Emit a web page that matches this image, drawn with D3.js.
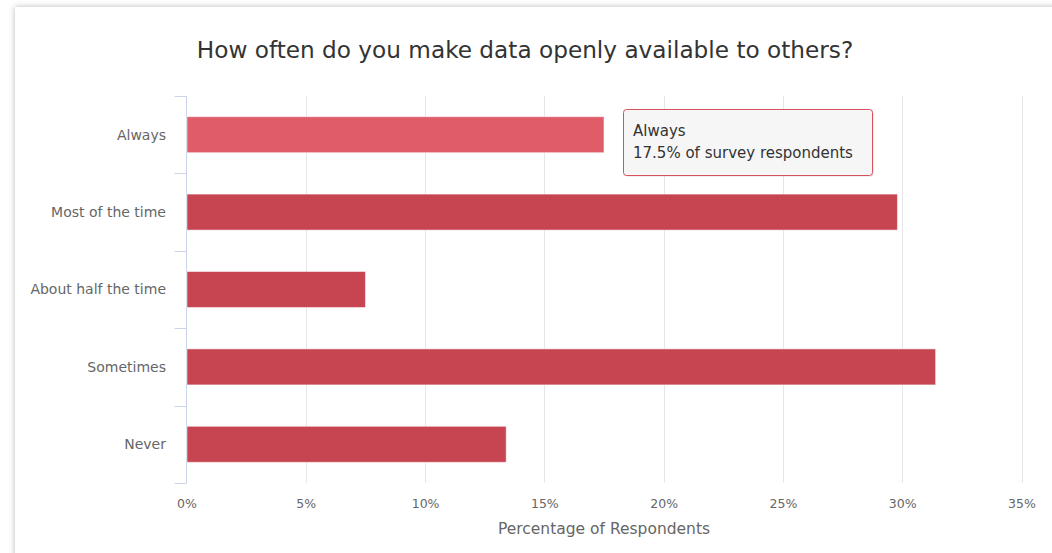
<!DOCTYPE html>
<html>
<head>
<meta charset="utf-8">
<script src="https://cdn.jsdelivr.net/npm/d3@7"></script>
<style>
  html, body { margin: 0; padding: 0; background: #ffffff; overflow: hidden; }
  body { width: 1052px; height: 553px; position: relative; }
  #card {
    position: absolute; left: 15px; top: 7px; width: 1100px; height: 620px;
    background: #ffffff; box-shadow: 0 0 6px rgba(0,0,0,0.28);
  }
  svg { position: absolute; left: 0; top: 0; }
  text { font-family: "DejaVu Sans", Verdana, sans-serif; }
</style>
</head>
<body>
<div id="card"></div>
<svg id="chart" width="1052" height="553"></svg>
<script>
// Survey answers and share of respondents (%)
const categories = ["Always", "Most of the time", "About half the time", "Sometimes", "Never"];
const values = [17.5, 29.8, 7.5, 31.4, 13.4];
const tickValues = [0, 5, 10, 15, 20, 25, 30, 35];
const title = "How often do you make data openly available to others?";
const axisTitle = "Percentage of Respondents";
const highlighted = 0; // the bar whose tooltip is shown

const W = 1052, H = 553;
const margin = { left: 186.5, right: 30.5, top: 96, bottom: 70 };

const svg = d3.select("#chart");

const x = d3.scaleLinear().domain([0, 35]).range([margin.left, W - margin.right]);
const y = d3.scaleBand().domain(categories).range([margin.top, H - margin.bottom])
  .paddingInner(0.535).paddingOuter(0.2675);
const band = d3.scaleBand().domain(categories).range([margin.top, H - margin.bottom]);

// Title
svg.append("text")
  .attr("x", 525).attr("y", 58)
  .attr("text-anchor", "middle")
  .attr("fill", "#333333")
  .style("font-size", "23.2px")
  .text(title);

// Vertical gridlines
svg.append("g").selectAll("line")
  .data(tickValues.filter(d => d > 0))
  .join("line")
  .attr("x1", d => Math.round(x(d)) + 0.5).attr("x2", d => Math.round(x(d)) + 0.5)
  .attr("y1", margin.top).attr("y2", H - margin.bottom)
  .attr("stroke", "#e6e6e6").attr("stroke-width", 1);

// Value axis labels
const xAxis = d3.axisBottom(x).tickValues(tickValues).tickFormat(d => d + "%").tickSize(0).tickPadding(0);
const gx = svg.append("g").attr("transform", `translate(0,${H - margin.bottom + 16})`).call(xAxis);
gx.select(".domain").remove();
gx.selectAll("text")
  .attr("fill", "#666666")
  .style("font-size", "12.5px")
  .attr("dy", "0.71em");

// Axis title
svg.append("text")
  .attr("x", (x(0) + x(35)) / 2).attr("y", 534)
  .attr("text-anchor", "middle")
  .attr("fill", "#666666")
  .style("font-size", "15.5px")
  .text(axisTitle);

// Category axis: line with tick marks between categories
const axisX = Math.round(x(0)) - 0.5;
const catAxis = svg.append("g");
catAxis.append("line")
  .attr("x1", axisX).attr("x2", axisX)
  .attr("y1", margin.top).attr("y2", H - margin.bottom)
  .attr("stroke", "#ccd6eb");
const boundaries = categories.map(c => band(c)).concat([H - margin.bottom]);
catAxis.selectAll("line.tick")
  .data(boundaries)
  .join("line")
  .attr("class", "tick")
  .attr("x1", axisX - 12).attr("x2", axisX)
  .attr("y1", d => Math.round(d) + 0.5).attr("y2", d => Math.round(d) + 0.5)
  .attr("stroke", "#ccd6eb");
catAxis.selectAll("text")
  .data(categories)
  .join("text")
  .attr("x", 166)
  .attr("y", d => band(d) + band.bandwidth() / 2)
  .attr("dy", "0.35em")
  .attr("text-anchor", "end")
  .attr("fill", "#666666")
  .style("font-size", "14px")
  .text(d => d);

// Bars
svg.append("g").selectAll("rect")
  .data(categories.map((c, i) => ({ c, v: values[i], i })))
  .join("rect")
  .attr("x", x(0) + 0.5)
  .attr("y", d => y(d.c))
  .attr("width", d => x(d.v) - x(0) - 0.5)
  .attr("height", y.bandwidth())
  .attr("fill", d => d.i === highlighted ? "#e05c69" : "#c64551")
  .attr("stroke", "#ffffff")
  .attr("stroke-opacity", 0.5)
  .attr("stroke-width", 1);

// Tooltip for the highlighted bar
const tipX = x(values[highlighted]) + 19;
const tipY = band(categories[highlighted]) + 13;
const tip = svg.append("g").attr("transform", `translate(${tipX},${tipY})`);
const tipW = 249, tipH = 66;
tip.append("rect")
  .attr("x", 1.5).attr("y", 1.5).attr("width", tipW).attr("height", tipH)
  .attr("rx", 3).attr("fill", "#000").attr("opacity", 0.12);
tip.append("rect")
  .attr("x", 0.5).attr("y", 0.5).attr("width", tipW).attr("height", tipH)
  .attr("rx", 3)
  .attr("fill", "#f7f7f7").attr("fill-opacity", 0.95)
  .attr("stroke", "#d9505e").attr("stroke-width", 1);
tip.append("text")
  .attr("x", 10).attr("y", 27)
  .attr("fill", "#333333").style("font-size", "15px")
  .text(categories[highlighted]);
tip.append("text")
  .attr("x", 10).attr("y", 49)
  .attr("fill", "#333333").style("font-size", "15px")
  .text(values[highlighted] + "% of survey respondents");
</script>
</body>
</html>
